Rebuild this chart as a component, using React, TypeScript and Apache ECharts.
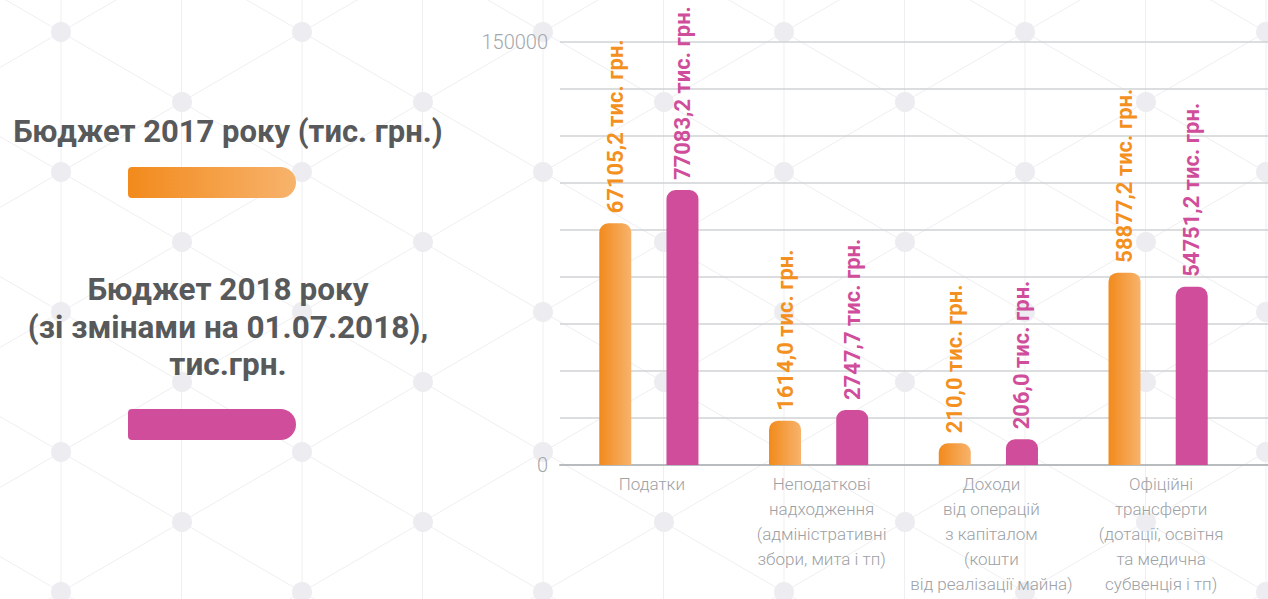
import React, { useEffect, useRef } from 'react';
import * as echarts from 'echarts';

const categories = [
  'Податки',
  'Неподаткові\nнадходження\n(адміністративні\nзбори, мита і тп)',
  'Доходи\nвід операцій\nз капіталом\n(кошти\nвід реалізації майна)',
  'Офіційні\nтрансферти\n(дотації, освітня\nта медична\nсубвенція і тп)',
];
// values printed above the bars (тис. грн.)
const budget2017Labels = ['67105,2', '1614,0', '210,0', '58877,2'];
const budget2018Labels = ['77083,2', '2747,7', '206,0', '54751,2'];
// bar heights as drawn against the 0–150000 axis of the picture
const budget2017Bars = [85700, 15700, 7700, 68200];
const budget2018Bars = [97500, 19500, 9100, 63200];
const yTickLabels = ['0', '150000'];
const unitSuffix = ' тис. грн.';
const legend2017 = 'Бюджет 2017 року (тис. грн.)';
const legend2018 = 'Бюджет 2018 року\n(зі змінами на 01.07.2018),\nтис.грн.';

const ORANGE = '#F39020';
const PINK = '#CF4D9A';

function buildBackground(): any[] {
  const els: any[] = [];
  const lineColor = '#efeff1';
  const dotColor = '#ececf1';
  const s = 70 / 120.5;
  for (let m = 0; m <= 10; m++) {
    const x = 61 + 120.5 * m;
    els.push({ type: 'line', z: -10, silent: true, shape: { x1: x, y1: 0, x2: x, y2: 599 }, style: { stroke: lineColor, lineWidth: 1 } });
  }
  for (let n = -6; n <= 5; n++) {
    const b = -3.44 + 140 * n;
    els.push({ type: 'line', z: -10, silent: true, shape: { x1: 0, y1: b, x2: 1268, y2: b + s * 1268 }, style: { stroke: lineColor, lineWidth: 1 } });
  }
  for (let n = -1; n <= 10; n++) {
    const c = 67.44 + 140 * n;
    els.push({ type: 'line', z: -10, silent: true, shape: { x1: 0, y1: c, x2: 1268, y2: c - s * 1268 }, style: { stroke: lineColor, lineWidth: 1 } });
  }
  for (let j = -1; j <= 9; j++) {
    const y = 32 + 70 * j;
    const x0 = j % 2 === 0 ? 61 : 182;
    for (let k = -1; k <= 5; k++) {
      const x = x0 + 241 * k;
      els.push({ type: 'circle', z: -9, silent: true, shape: { cx: x, cy: y, r: 10 }, style: { fill: dotColor } });
    }
  }
  return els;
}

export default function App() {
  const ref = useRef<HTMLDivElement>(null);
  useEffect(() => {
    if (!ref.current) return;
    const chart = echarts.init(ref.current, null, { renderer: 'svg' });
    const mkOrange = () =>
      new echarts.graphic.LinearGradient(0, 0, 1, 0, [
        { offset: 0, color: '#F28A1C' },
        { offset: 1, color: '#F7B36C' },
      ]);
    const labelBase = {
      show: true,
      position: 'top',
      rotate: 90,
      align: 'left',
      verticalAlign: 'middle',
      distance: 10,
      fontSize: 22,
      fontWeight: 'bold',
      fontFamily: 'Roboto',
    };
    const option: any = {
      animation: false,
      backgroundColor: '#ffffff',
      grid: [
        { left: 564, width: 679, top: 42, bottom: 134 },
        { left: 560, right: 0, top: 42, bottom: 134 },
      ],
      xAxis: [
        {
          gridIndex: 0,
          type: 'category',
          data: categories,
          axisLine: { show: false },
          axisTick: { show: false },
          axisLabel: {
            interval: 0,
            color: '#9da1a5',
            fontSize: 17,
            lineHeight: 25,
            margin: 6,
            padding: [0, 0, 0, 6],
            fontFamily: 'Roboto',
            fontWeight: 300,
          },
        },
        {
          gridIndex: 1,
          type: 'category',
          data: [''],
          axisLine: { show: true, lineStyle: { color: '#b9bcbf', width: 2 } },
          axisTick: { show: false },
          axisLabel: { show: false },
        },
      ],
      yAxis: [
        { gridIndex: 0, type: 'value', min: 0, max: 150000, show: false },
        {
          gridIndex: 1,
          type: 'value',
          min: 0,
          max: 150000,
          interval: 150000 / 9,
          axisLine: { show: false },
          axisTick: { show: false },
          splitLine: { show: true, lineStyle: { color: '#d0d2d4', width: 1.5 } },
          axisLabel: {
            color: '#a3a7ab',
            fontSize: 20,
            fontFamily: 'Roboto',
            fontWeight: 300,
            margin: 12,
            formatter: (v: number) => (v === 0 ? yTickLabels[0] : Math.abs(v - 150000) < 100 ? yTickLabels[1] : ''),
          },
        },
      ],
      series: [
        {
          name: '2017',
          type: 'bar',
          xAxisIndex: 0,
          yAxisIndex: 0,
          data: budget2017Bars,
          barWidth: 32,
          barGap: '110%',
          itemStyle: { color: mkOrange(), borderRadius: [9, 9, 0, 0] },
          label: { ...labelBase, color: ORANGE, formatter: (p: any) => budget2017Labels[p.dataIndex] + unitSuffix },
        },
        {
          name: '2018',
          type: 'bar',
          xAxisIndex: 0,
          yAxisIndex: 0,
          data: budget2018Bars,
          barWidth: 32,
          barGap: '110%',
          itemStyle: { color: PINK, borderRadius: [9, 9, 0, 0] },
          label: { ...labelBase, color: PINK, formatter: (p: any) => budget2018Labels[p.dataIndex] + unitSuffix },
        },
      ],
      graphic: [
        ...buildBackground(),
        {
          type: 'text',
          z: 100,
          x: 228,
          y: 131,
          style: { text: legend2017, fill: '#58595b', fontSize: 31, fontWeight: 'bold', fontFamily: 'Roboto', align: 'center', verticalAlign: 'middle' },
        },
        {
          type: 'rect',
          z: 100,
          shape: { x: 128, y: 167, width: 168, height: 31, r: [4, 15.5, 15.5, 4] },
          style: { fill: mkOrange() },
        },
        {
          type: 'text',
          z: 100,
          x: 228,
          y: 327,
          style: { text: legend2018, fill: '#58595b', fontSize: 31.5, fontWeight: 'bold', fontFamily: 'Roboto', align: 'center', verticalAlign: 'middle', lineHeight: 37.5 },
        },
        {
          type: 'rect',
          z: 100,
          shape: { x: 128, y: 409, width: 168, height: 31, r: [4, 15.5, 15.5, 4] },
          style: { fill: PINK },
        },
      ],
    };
    chart.setOption(option);
    return () => chart.dispose();
  }, []);
  return <div ref={ref} style={{ position: 'fixed', left: 0, top: 0, width: 1268, height: 599, background: '#fff' }} />;
}
